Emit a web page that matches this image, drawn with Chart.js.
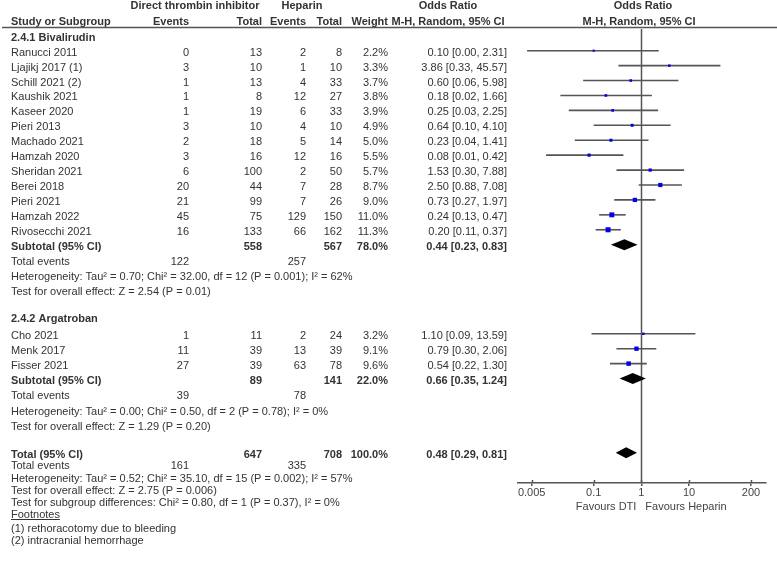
<!DOCTYPE html>
<html>
<head>
<meta charset="utf-8">
<script src="https://cdn.jsdelivr.net/npm/chart.js@4.4.1/dist/chart.umd.min.js"></script>
<style>
  html, body { margin: 0; padding: 0; background: #fff; }
  canvas { display: block; }
</style>
</head>
<body>
<canvas id="forest" width="777" height="568"></canvas>
<script>
// 2.4.1 Bivalirudin
const bivStudies = ['Ranucci 2011', 'Ljajikj 2017 (1)', 'Schill 2021 (2)', 'Kaushik 2021', 'Kaseer 2020',
  'Pieri 2013', 'Machado 2021', 'Hamzah 2020', 'Sheridan 2021', 'Berei 2018', 'Pieri 2021',
  'Hamzah 2022', 'Rivosecchi 2021'];
const bivDtiEvents = [0, 3, 1, 1, 1, 3, 2, 3, 6, 20, 21, 45, 16];
const bivDtiTotal = [13, 10, 13, 8, 19, 10, 18, 16, 100, 44, 99, 75, 133];
const bivHepEvents = [2, 1, 4, 12, 6, 4, 5, 12, 2, 7, 7, 129, 66];
const bivHepTotal = [8, 10, 33, 27, 33, 10, 14, 16, 50, 28, 26, 150, 162];
const bivWeight = [2.2, 3.3, 3.7, 3.8, 3.9, 4.9, 5.0, 5.5, 5.7, 8.7, 9.0, 11.0, 11.3];
const bivOR = [0.10, 3.86, 0.60, 0.18, 0.25, 0.64, 0.23, 0.08, 1.53, 2.50, 0.73, 0.24, 0.20];
const bivLo = [0.004, 0.33, 0.06, 0.02, 0.03, 0.10, 0.04, 0.01, 0.30, 0.88, 0.27, 0.13, 0.11];
const bivHi = [2.31, 45.57, 5.98, 1.66, 2.25, 4.10, 1.41, 0.42, 7.88, 7.08, 1.97, 0.47, 0.37];

// 2.4.2 Argatroban
const argStudies = ['Cho 2021', 'Menk 2017', 'Fisser 2021'];
const argDtiEvents = [1, 11, 27];
const argDtiTotal = [11, 39, 39];
const argHepEvents = [2, 13, 63];
const argHepTotal = [24, 39, 78];
const argWeight = [3.2, 9.1, 9.6];
const argOR = [1.10, 0.79, 0.54];
const argLo = [0.09, 0.30, 0.22];
const argHi = [13.59, 2.06, 1.30];

// pooled estimates: bivalirudin subtotal, argatroban subtotal, overall
const poolWeight = [78.0, 22.0, 100.0];
const poolOR = [0.44, 0.66, 0.48];
const poolLo = [0.23, 0.35, 0.29];
const poolHi = [0.83, 1.24, 0.81];

const bivStats = ['Heterogeneity: Tau\u00b2 = 0.70; Chi\u00b2 = 32.00, df = 12 (P = 0.001); I\u00b2 = 62%',
  'Test for overall effect: Z = 2.54 (P = 0.01)'];
const argStats = ['Heterogeneity: Tau\u00b2 = 0.00; Chi\u00b2 = 0.50, df = 2 (P = 0.78); I\u00b2 = 0%',
  'Test for overall effect: Z = 1.29 (P = 0.20)'];
const allStats = ['Heterogeneity: Tau\u00b2 = 0.52; Chi\u00b2 = 35.10, df = 15 (P = 0.002); I\u00b2 = 57%',
  'Test for overall effect: Z = 2.75 (P = 0.006)',
  'Test for subgroup differences: Chi\u00b2 = 0.80, df = 1 (P = 0.37), I\u00b2 = 0%'];
const footnotes = ['(1) rethoracotomy due to bleeding', '(2) intracranial hemorrhage'];

const xTicks = [0.005, 0.1, 1, 10, 200];

// ---- layout (row positions in row units) ----
const sum = a => a.reduce((s, v) => s + v, 0);
const argStart = 18.97;
const bivRows = bivStudies.map((_, i) => i);
const argRows = argStudies.map((_, i) => argStart + i);
const poolRows = [13, argStart + 3, 26.94];

const col = { name: 11, dtiEv: 189, dtiTot: 262, hepEv: 306, hepTot: 342, weight: 388, ci: 507 };
const FONT = '"Liberation Sans", Arial, sans-serif';
const TXT = '#333';
const LINE = '#555';

const ciText = (o, l, h) => o.toFixed(2) + ' [' + l.toFixed(2) + ', ' + h.toFixed(2) + ']';
const squareRadius = w => (1.4 + 0.32 * w) / Math.SQRT2;

const datasets = [];
datasets.push({
  data: bivOR.map((v, i) => ({ x: v, y: bivRows[i] })).concat(argOR.map((v, i) => ({ x: v, y: argRows[i] }))),
  pointStyle: 'rect',
  pointRadius: bivWeight.concat(argWeight).map(squareRadius),
  backgroundColor: '#0000ee',
  borderWidth: 0,
  order: 0
});
const addCI = (lo, hi, rows) => lo.forEach((l, i) => datasets.push({
  data: [{ x: l, y: rows[i] }, { x: hi[i], y: rows[i] }],
  showLine: true,
  borderColor: LINE,
  borderWidth: 1.6,
  pointRadius: 0,
  order: 1
}));
addCI(bivLo, bivHi, bivRows);
addCI(argLo, argHi, argRows);

const forestPlugin = {
  id: 'forestTable',
  beforeDatasetsDraw(chart) {
    const ctx = chart.ctx, xs = chart.scales.x, a = chart.chartArea;
    ctx.save();
    ctx.strokeStyle = LINE;
    ctx.lineWidth = 1.5;
    const x1 = Math.round(xs.getPixelForValue(1)) + 0.5;
    ctx.beginPath();
    ctx.moveTo(x1, a.top);
    ctx.lineTo(x1, a.bottom);
    ctx.stroke();
    // upward halves of the tick marks
    xTicks.forEach(v => {
      const px = Math.round(xs.getPixelForValue(v)) + 0.5;
      ctx.beginPath();
      ctx.moveTo(px, a.bottom - 3);
      ctx.lineTo(px, a.bottom);
      ctx.stroke();
    });
    ctx.restore();
  },
  afterDatasetsDraw(chart) {
    const ctx = chart.ctx, xs = chart.scales.x, ys = chart.scales.y;
    ctx.save();
    ctx.fillStyle = '#000';
    poolOR.forEach((o, i) => {
      const y = ys.getPixelForValue(poolRows[i]);
      ctx.beginPath();
      ctx.moveTo(xs.getPixelForValue(poolLo[i]), y);
      ctx.lineTo(xs.getPixelForValue(o), y - 5.5);
      ctx.lineTo(xs.getPixelForValue(poolHi[i]), y);
      ctx.lineTo(xs.getPixelForValue(o), y + 5.5);
      ctx.closePath();
      ctx.fill();
    });
    ctx.restore();
  },
  afterDraw(chart) {
    const ctx = chart.ctx, ys = chart.scales.y, xs = chart.scales.x;
    const by = u => ys.getPixelForValue(u) + 5;
    const put = (s, x, u, align, bold) => {
      ctx.font = (bold ? 'bold ' : '') + '11px ' + FONT;
      ctx.textAlign = align;
      ctx.fillText(String(s), x, by(u));
    };
    ctx.save();
    ctx.fillStyle = TXT;
    ctx.textBaseline = 'alphabetic';

    // header
    put('Direct thrombin inhibitor', 195, -3.1, 'center', true);
    put('Heparin', 302, -3.1, 'center', true);
    put('Odds Ratio', 448, -3.1, 'center', true);
    put('Odds Ratio', 643, -3.1, 'center', true);
    put('Study or Subgroup', col.name, -2.09, 'left', true);
    put('Events', col.dtiEv, -2.09, 'right', true);
    put('Total', col.dtiTot, -2.09, 'right', true);
    put('Events', col.hepEv, -2.09, 'right', true);
    put('Total', col.hepTot, -2.09, 'right', true);
    put('Weight', col.weight, -2.09, 'right', true);
    put('M-H, Random, 95% CI', 448, -2.09, 'center', true);
    put('M-H, Random, 95% CI', 639, -2.09, 'center', true);

    ctx.strokeStyle = LINE;
    ctx.lineWidth = 1.5;
    ctx.beginPath();
    ctx.moveTo(2, 27.5);
    ctx.lineTo(777, 27.5);
    ctx.stroke();

    const studyRows = (names, de, dt, he, ht, w, o, l, h, rows) => names.forEach((n, i) => {
      const u = rows[i];
      put(n, col.name, u, 'left', false);
      put(de[i], col.dtiEv, u, 'right', false);
      put(dt[i], col.dtiTot, u, 'right', false);
      put(he[i], col.hepEv, u, 'right', false);
      put(ht[i], col.hepTot, u, 'right', false);
      put(w[i].toFixed(1) + '%', col.weight, u, 'right', false);
      put(ciText(o[i], l[i], h[i]), col.ci, u, 'right', false);
    });
    const pooledRow = (label, k, dtiTot, hepTot) => {
      const u = poolRows[k];
      put(label, col.name, u, 'left', true);
      put(dtiTot, col.dtiTot, u, 'right', true);
      put(hepTot, col.hepTot, u, 'right', true);
      put(poolWeight[k].toFixed(1) + '%', col.weight, u, 'right', true);
      put(ciText(poolOR[k], poolLo[k], poolHi[k]), col.ci, u, 'right', true);
    };

    // Bivalirudin block
    put('2.4.1 Bivalirudin', col.name, -1, 'left', true);
    studyRows(bivStudies, bivDtiEvents, bivDtiTotal, bivHepEvents, bivHepTotal, bivWeight, bivOR, bivLo, bivHi, bivRows);
    pooledRow('Subtotal (95% CI)', 0, sum(bivDtiTotal), sum(bivHepTotal));
    put('Total events', col.name, 14.0, 'left', false);
    put(sum(bivDtiEvents), col.dtiEv, 14.0, 'right', false);
    put(sum(bivHepEvents), col.hepEv, 14.0, 'right', false);
    put(bivStats[0], col.name, 15.0, 'left', false);
    put(bivStats[1], col.name, 16.05, 'left', false);

    // Argatroban block
    put('2.4.2 Argatroban', col.name, 17.85, 'left', true);
    studyRows(argStudies, argDtiEvents, argDtiTotal, argHepEvents, argHepTotal, argWeight, argOR, argLo, argHi, argRows);
    pooledRow('Subtotal (95% CI)', 1, sum(argDtiTotal), sum(argHepTotal));
    put('Total events', col.name, 23.0, 'left', false);
    put(sum(argDtiEvents), col.dtiEv, 23.0, 'right', false);
    put(sum(argHepEvents), col.hepEv, 23.0, 'right', false);
    put(argStats[0], col.name, 24.05, 'left', false);
    put(argStats[1], col.name, 25.05, 'left', false);

    // Overall
    pooledRow('Total (95% CI)', 2, sum(bivDtiTotal) + sum(argDtiTotal), sum(bivHepTotal) + sum(argHepTotal));
    put('Total events', col.name, 27.73, 'left', false);
    put(sum(bivDtiEvents) + sum(argDtiEvents), col.dtiEv, 27.73, 'right', false);
    put(sum(bivHepEvents) + sum(argHepEvents), col.hepEv, 27.73, 'right', false);
    put(allStats[0], col.name, 28.54, 'left', false);
    put(allStats[1], col.name, 29.4, 'left', false);
    put(allStats[2], col.name, 30.2, 'left', false);

    put('Footnotes', col.name, 31.0, 'left', false);
    ctx.font = '11px ' + FONT;
    const fw = ctx.measureText('Footnotes').width;
    ctx.strokeStyle = TXT;
    ctx.lineWidth = 1;
    ctx.beginPath();
    ctx.moveTo(col.name, Math.round(by(31.0)) + 1.5);
    ctx.lineTo(col.name + fw, Math.round(by(31.0)) + 1.5);
    ctx.stroke();
    put(footnotes[0], col.name, 31.9, 'left', false);
    put(footnotes[1], col.name, 32.7, 'left', false);

    // axis captions
    const x1 = xs.getPixelForValue(1);
    ctx.fillStyle = '#444';
    ctx.font = '11px ' + FONT;
    ctx.textAlign = 'right';
    ctx.fillText('Favours DTI', x1 - 5, 510);
    ctx.textAlign = 'left';
    ctx.fillText('Favours Heparin', x1 + 4, 510);
    ctx.restore();
  }
};

Chart.defaults.font.family = FONT;
Chart.defaults.font.size = 11;
Chart.defaults.color = TXT;

new Chart(document.getElementById('forest'), {
  type: 'scatter',
  data: { datasets: datasets },
  options: {
    responsive: false,
    animation: false,
    events: [],
    layout: { padding: { left: 518, right: 11, top: 29, bottom: 0 } },
    plugins: { legend: { display: false }, tooltip: { enabled: false } },
    scales: {
      x: {
        type: 'logarithmic',
        min: 0.00258,
        max: 412,
        afterBuildTicks: s => { s.ticks = xTicks.map(v => ({ value: v })); },
        afterFit: s => { s.height = 85; },
        ticks: {
          autoSkip: false,
          maxRotation: 0,
          padding: 0,
          color: '#444',
          font: { size: 11 },
          callback: v => String(v)
        },
        grid: { drawOnChartArea: false, drawTicks: true, tickLength: 3, color: LINE, lineWidth: 1.5 },
        border: { display: true, color: LINE, width: 1.5 }
      },
      y: {
        type: 'linear',
        reverse: true,
        min: -1.454,
        max: 28.97,
        display: false
      }
    }
  },
  plugins: [forestPlugin]
});
</script>
</body>
</html>
